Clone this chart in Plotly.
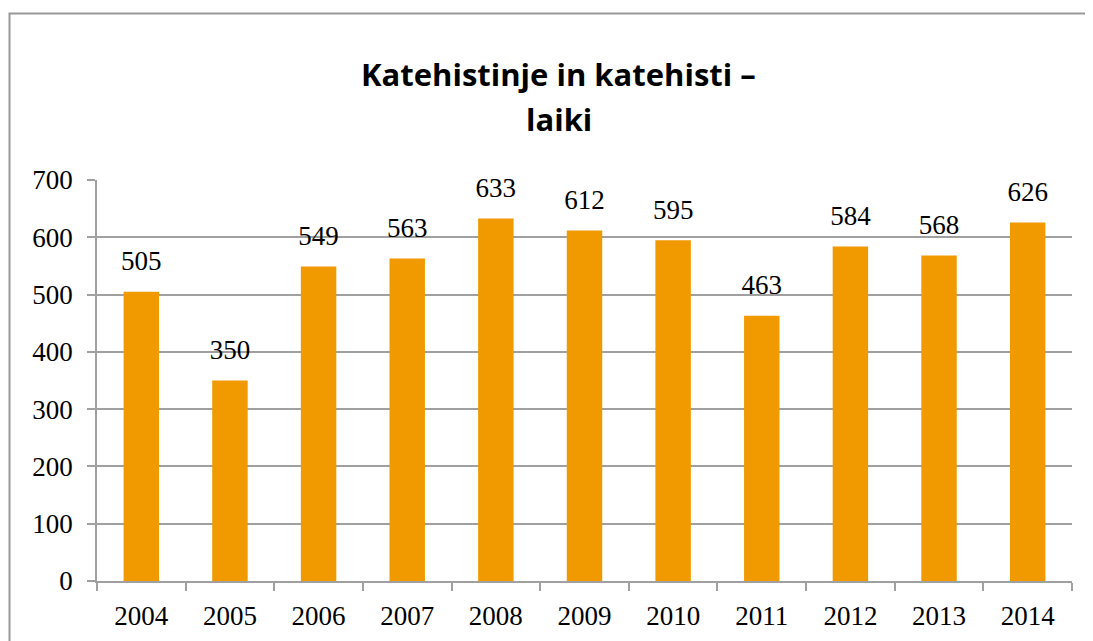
import plotly.graph_objects as go

years = ["2004", "2005", "2006", "2007", "2008", "2009", "2010", "2011", "2012", "2013", "2014"]
values = [505, 350, 549, 563, 633, 612, 595, 463, 584, 568, 626]
y_ticks = [0, 100, 200, 300, 400, 500, 600, 700]
title_lines = ["Katehistinje in katehisti –", "laiki"]

BAR = "#F09A00"
GRID = "#A0A0A0"
SERIF = "Liberation Serif"
FS = 27

# page body has an 8px margin, so the figure covers the visible 1085x633 area
W, H = 1085, 633
L, R, T, B = 89, 21, 172, 60

fig = go.Figure()
fig.add_trace(go.Bar(
    x=years, y=values, marker=dict(color=BAR, line=dict(width=0)),
    hoverinfo="x+y",
))
fig.add_trace(go.Scatter(
    x=years, y=values, mode="markers+text", text=[str(v) for v in values],
    textposition="top center", marker=dict(size=22, opacity=0), cliponaxis=False,
    textfont=dict(family=SERIF, size=FS, color="#000000"), hoverinfo="skip",
))

def px_x(p):
    return (p - L) / (W - L - R)

def px_y(p):
    return 1 - (p - T) / (H - T - B)

# outer chart frame
fig.add_shape(type="rect", xref="paper", yref="paper",
              x0=px_x(1.5), x1=px_x(1100), y0=px_y(5.5), y1=px_y(660),
              line=dict(color="#999999", width=2), fillcolor="rgba(0,0,0,0)", layer="below")

# title (two lines)
for txt, yc in zip(title_lines, [66, 111]):
    fig.add_annotation(xref="paper", yref="paper", x=px_x(550.5), y=px_y(yc),
                       xanchor="center", yanchor="middle", showarrow=False, text=txt,
                       font=dict(family="Open Sans", size=31, color="#000000", weight="bold"))

fig.update_layout(
    width=W, height=H,
    margin=dict(l=L, r=R, t=T, b=B, autoexpand=False),
    paper_bgcolor="white", plot_bgcolor="white",
    bargap=0.6,
    showlegend=False,
    font=dict(family=SERIF, size=FS, color="#000000"),
)
fig.update_yaxes(range=[0, 700], tickvals=y_ticks, showgrid=True, gridcolor=GRID, gridwidth=1.5,
                 showline=True, linecolor=GRID, linewidth=1.5,
                 ticks="outside", ticklen=8, tickcolor=GRID, tickwidth=1.5,
                 ticklabelstandoff=9,
                 tickfont=dict(family=SERIF, size=FS, color="#000000"), zeroline=False,
                 automargin=False)
fig.update_xaxes(type="category", range=[-0.5, len(years) - 0.5],
                 showline=True, linecolor=GRID, linewidth=1.5,
                 ticks="outside", ticklen=8, tickcolor=GRID, tickwidth=1.5,
                 tickson="boundaries", showgrid=False, tickangle=0, automargin=False,
                 ticklabelstandoff=10,
                 tickfont=dict(family=SERIF, size=FS, color="#000000"))

fig.write_html("out.html")
